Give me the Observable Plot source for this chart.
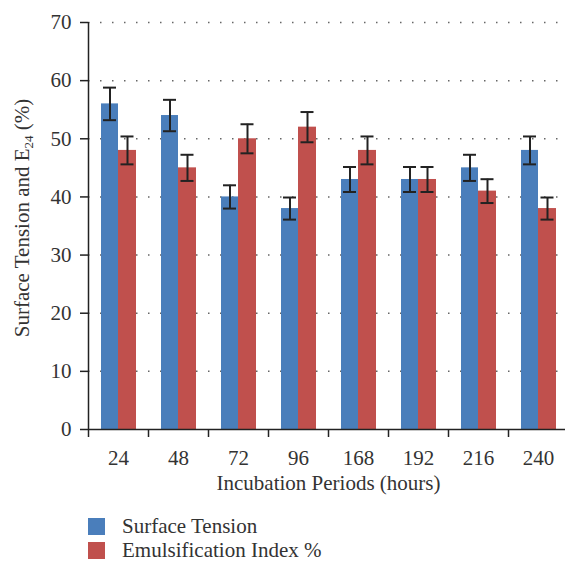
<!DOCTYPE html>
<html>
<head>
<meta charset="utf-8">
<script src="https://cdn.jsdelivr.net/npm/d3@7"></script>
<script src="https://cdn.jsdelivr.net/npm/@observablehq/plot@0.6"></script>
<style>
  html, body { margin: 0; padding: 0; background: #fff; overflow: hidden; }
  #legend { font-family: "Liberation Serif", "Times New Roman", serif; font-size: 21px; color: #333; padding-left: 88px; margin-top: 15px; line-height: 1; }
  .row { display: flex; align-items: center; height: 23.5px; }
  .sw { width: 17px; height: 17px; margin-right: 17px; flex: none; }
</style>
</head>
<body>
<div id="chart"></div>
<div id="legend"></div>
<script>
const periods = ["24", "48", "72", "96", "168", "192", "216", "240"];
const surfaceTension = [56, 54, 40, 38, 43, 43, 45, 48];
const surfaceTensionErr = [2.8, 2.7, 2.0, 1.9, 2.15, 2.15, 2.25, 2.4];
const emulsification = [48, 45, 50, 52, 48, 43, 41, 38];
const emulsificationErr = [2.4, 2.25, 2.5, 2.6, 2.4, 2.15, 2.05, 1.9];
const yTicks = [0, 10, 20, 30, 40, 50, 60, 70];
const seriesNames = ["Surface Tension", "Emulsification Index %"];
const colors = ["#4a7ebb", "#c0504d"];

const stData = periods.map((p, i) => ({period: p, value: surfaceTension[i], err: surfaceTensionErr[i]}));
const eiData = periods.map((p, i) => ({period: p, value: emulsification[i], err: emulsificationErr[i]}));

const errColor = "#222";
const axisColor = "#222";
const serif = "'Liberation Serif', 'Times New Roman', serif";

const chart = Plot.plot({
  width: 565,
  height: 500,
  marginLeft: 88,
  marginRight: -3,
  marginTop: 22,
  marginBottom: 71,
  style: {fontFamily: serif, fontSize: "21px", color: "#333", background: "white", overflow: "visible"},
  x: {domain: periods, padding: 0, axis: null},
  y: {domain: [0, 70], axis: null},
  marks: [
    Plot.gridY(yTicks.filter(d => d > 0), {stroke: "#666", strokeOpacity: 1, strokeWidth: 1.5, strokeDasharray: "1.5,10.5"}),
    Plot.barY(stData, {x: "period", y: "value", fill: colors[0], insetLeft: 13, insetRight: 30}),
    Plot.barY(eiData, {x: "period", y: "value", fill: colors[1], insetLeft: 30, insetRight: 12}),
    Plot.ruleX(stData, {x: "period", y1: d => d.value - d.err, y2: d => d.value + d.err, dx: -8.5, stroke: errColor, strokeWidth: 2}),
    Plot.tickY(stData, {x: "period", y: d => d.value - d.err, insetLeft: 15, insetRight: 32, stroke: errColor, strokeWidth: 2}),
    Plot.tickY(stData, {x: "period", y: d => d.value + d.err, insetLeft: 15, insetRight: 32, stroke: errColor, strokeWidth: 2}),
    Plot.ruleX(eiData, {x: "period", y1: d => d.value - d.err, y2: d => d.value + d.err, dx: 9, stroke: errColor, strokeWidth: 2}),
    Plot.tickY(eiData, {x: "period", y: d => d.value - d.err, insetLeft: 32.5, insetRight: 14.5, stroke: errColor, strokeWidth: 2}),
    Plot.tickY(eiData, {x: "period", y: d => d.value + d.err, insetLeft: 32.5, insetRight: 14.5, stroke: errColor, strokeWidth: 2}),
    Plot.ruleY([0], {stroke: axisColor, strokeWidth: 1.5}),
    Plot.ruleX([periods[0]], {x: d => d, y1: () => 0, y2: () => 70, dx: -30, stroke: axisColor, strokeWidth: 1.5}),
    Plot.ruleX(periods, {x: d => d, y1: () => 0, y2: () => 0, insetBottom: -8, dx: -30, stroke: axisColor, strokeWidth: 1.5}),
    Plot.axisY({ticks: yTicks, tickSize: 8, tickPadding: 9, stroke: axisColor, strokeWidth: 1.5, label: null, fill: "#333", fontSize: 21}),
    Plot.axisX({tickSize: 0, tickPadding: 21, label: null, fill: "#333", fontSize: 21}),
    Plot.text(["Incubation Periods (hours)"], {frameAnchor: "bottom", dy: 60, fill: "#333", fontSize: 21})
  ]
});

document.getElementById("chart").appendChild(chart);

// y-axis title with subscript
const svg = d3.select(chart);
const yt = svg.append("text")
  .attr("transform", "translate(29,218) rotate(-90)")
  .attr("text-anchor", "middle")
  .attr("fill", "#333")
  .style("font-family", serif)
  .style("font-size", "21px");
yt.append("tspan").text("Surface Tension and E");
yt.append("tspan").attr("font-size", "13px").attr("dy", "4").text("24");
yt.append("tspan").attr("dy", "-4").text(" (%)");

// legend
const legend = d3.select("#legend");
seriesNames.forEach((name, i) => {
  const row = legend.append("div").attr("class", "row");
  row.append("div").attr("class", "sw").style("background", colors[i]);
  row.append("span").text(name);
});
</script>
</body>
</html>
